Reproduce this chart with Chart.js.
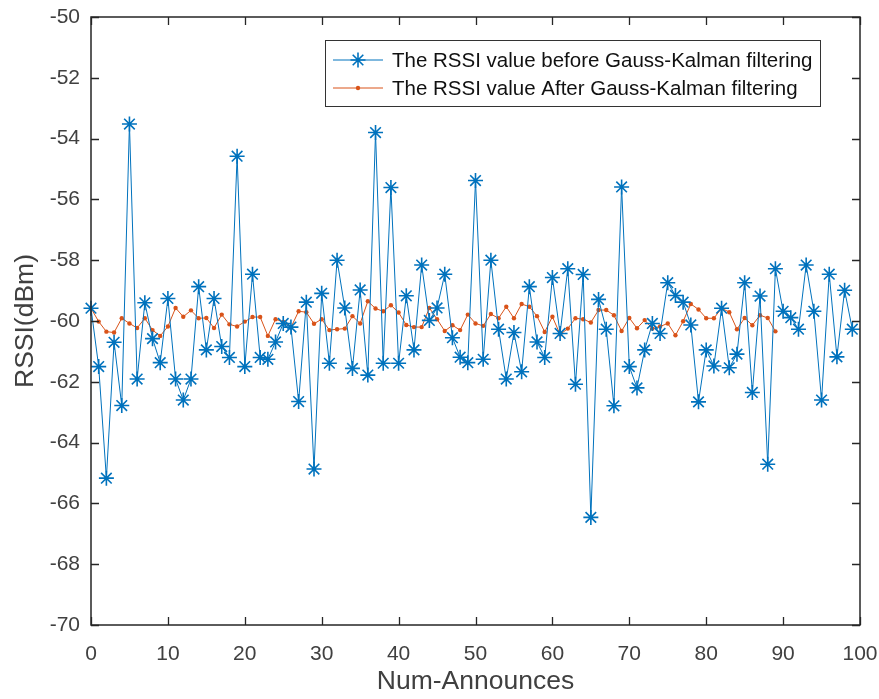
<!DOCTYPE html>
<html>
<head>
<meta charset="utf-8">
<script src="https://cdn.jsdelivr.net/npm/chart.js@4.4.0/dist/chart.umd.min.js"></script>
<style>
html,body{margin:0;padding:0;background:#fff;}
#wrap{width:879px;height:699px;position:relative;}
</style>
</head>
<body>
<div id="wrap"><canvas id="c" width="879" height="699"></canvas></div>
<script>
// ---- data ----
const seriesNames = [
  'The RSSI value before Gauss-Kalman filtering',
  'The RSSI value After Gauss-Kalman filtering'
];
const rssiBefore = [
  -59.58,-61.5,-65.17,-60.7,-62.78,-53.52,-61.91,-59.4,-60.58,-61.37,
  -59.26,-61.91,-62.6,-61.91,-58.87,-60.95,-59.26,-60.84,-61.2,-54.58,
  -61.5,-58.46,-61.2,-61.26,-60.69,-60.08,-60.2,-62.65,-59.38,-64.87,
  -59.09,-61.39,-58.0,-59.57,-61.56,-58.98,-61.78,-53.8,-61.39,-55.61,
  -61.39,-59.17,-60.95,-58.16,-59.98,-59.57,-58.46,-60.55,-61.19,-61.37,
  -55.38,-61.26,-58.0,-60.27,-61.91,-60.38,-61.67,-58.87,-60.69,-61.2,
  -58.57,-60.41,-58.28,-62.08,-58.47,-66.46,-59.29,-60.27,-62.79,-55.59,
  -61.5,-62.2,-60.95,-60.08,-60.41,-58.74,-59.16,-59.38,-60.13,-62.66,
  -60.95,-61.48,-59.58,-61.54,-61.09,-58.74,-62.35,-59.18,-64.71,-58.28,
  -59.68,-59.89,-60.27,-58.16,-59.68,-62.6,-58.46,-61.18,-58.99,-60.27
];
const rssiAfter = [
  -59.58,-60.02,-60.35,-60.38,-59.91,-60.08,-60.23,-59.91,-60.3,-60.49,
  -60.18,-59.57,-59.86,-59.65,-59.91,-59.9,-60.23,-59.79,-60.11,-60.18,
  -60.02,-59.87,-59.87,-60.49,-59.94,-60.03,-60.21,-59.68,-59.71,-60.09,
  -59.94,-60.3,-60.27,-60.25,-59.84,-60.08,-59.35,-59.59,-59.68,-59.48,
  -59.72,-60.13,-60.2,-60.2,-59.57,-59.94,-60.33,-60.14,-60.3,-59.79,
  -60.08,-60.16,-59.77,-59.91,-59.53,-59.91,-59.44,-59.53,-59.84,-60.36,
  -59.86,-60.44,-60.25,-59.91,-59.94,-60.05,-59.64,-59.64,-59.81,-60.33,
  -59.9,-60.24,-59.97,-60.25,-60.18,-60.08,-60.47,-60.01,-59.44,-59.62,
  -59.91,-59.91,-59.58,-59.71,-60.27,-59.9,-60.14,-59.81,-59.9,-60.34
];
const xTickValues = [0,10,20,30,40,50,60,70,80,90,100];
const yTickValues = [-70,-68,-66,-64,-62,-60,-58,-56,-54,-52,-50];
const xTitle = 'Num-Announces';
const yTitle = 'RSSI(dBm)';

// ---- styles ----
const BLUE = '#0072BD';
const ORANGE = '#D95319';
const AXIS = '#262626';
const TICKTXT = '#404040';
const FONT = "'Liberation Sans', Arial, Helvetica, sans-serif";

const toPoints = arr => arr.map((v, i) => ({x: i, y: v}));

const boxAndTicks = {
  id: 'boxAndTicks',
  afterDatasetsDraw(chart) {
    const {ctx, chartArea: a, scales} = chart;
    ctx.save();
    ctx.strokeStyle = AXIS;
    ctx.lineWidth = 1.3;
    ctx.beginPath();
    const L = 8;
    scales.x.ticks.forEach(t => {
      const p = Math.round(scales.x.getPixelForValue(t.value)) + 0.5;
      ctx.moveTo(p, a.bottom); ctx.lineTo(p, a.bottom - L);
      ctx.moveTo(p, a.top); ctx.lineTo(p, a.top + L);
    });
    scales.y.ticks.forEach(t => {
      const p = Math.round(scales.y.getPixelForValue(t.value)) + 0.5;
      ctx.moveTo(a.left, p); ctx.lineTo(a.left + L, p);
      ctx.moveTo(a.right, p); ctx.lineTo(a.right - L, p);
    });
    ctx.stroke();
    ctx.lineWidth = 1.5;
    ctx.strokeRect(a.left, a.top, a.right - a.left, a.bottom - a.top);

    // legend
    const lx = 325, ly = 40, lw = 495, lh = 66;
    ctx.fillStyle = '#fff';
    ctx.fillRect(lx, ly, lw, lh);
    ctx.strokeStyle = '#333';
    ctx.lineWidth = 1;
    ctx.strokeRect(lx + 0.5, ly + 0.5, lw, lh);
    const rows = [ly + 20, ly + 48];
    const dsets = chart.data.datasets;
    rows.forEach((ry, i) => {
      const ds = dsets[i];
      ctx.strokeStyle = ds.borderColor;
      ctx.fillStyle = ds.borderColor;
      ctx.lineWidth = ds.borderWidth;
      ctx.beginPath();
      ctx.moveTo(333, ry); ctx.lineTo(383, ry);
      ctx.stroke();
      ctx.lineWidth = ds.pointBorderWidth || 1;
      Chart.helpers.drawPoint(ctx, {
        pointStyle: ds.pointStyle, radius: ds.pointRadius,
        borderWidth: ds.pointBorderWidth, rotation: 0
      }, 358, ry);
      ctx.fillStyle = '#111';
      ctx.font = '20.5px ' + FONT;
      ctx.textBaseline = 'middle';
      ctx.textAlign = 'left';
      ctx.fillText(seriesNames[i], 392, ry + 1);
    });
    ctx.restore();
  }
};

new Chart(document.getElementById('c'), {
  type: 'line',
  data: {
    datasets: [
      {
        label: seriesNames[0],
        data: toPoints(rssiBefore),
        borderColor: BLUE,
        backgroundColor: BLUE,
        borderWidth: 1,
        pointStyle: 'star',
        pointRadius: 7.5,
        pointBorderWidth: 1.6,
        pointBorderColor: BLUE,
        pointBackgroundColor: BLUE,
        tension: 0,
        clip: false
      },
      {
        label: seriesNames[1],
        data: toPoints(rssiAfter),
        borderColor: ORANGE,
        backgroundColor: ORANGE,
        borderWidth: 1,
        pointStyle: 'circle',
        pointRadius: 2.2,
        pointBorderWidth: 0,
        pointBorderColor: ORANGE,
        pointBackgroundColor: ORANGE,
        tension: 0,
        clip: false
      }
    ]
  },
  options: {
    responsive: false,
    animation: false,
    devicePixelRatio: 1,
    layout: { padding: { top: 17, right: 19, left: 0, bottom: 0 } },
    plugins: { legend: { display: false }, tooltip: { enabled: false } },
    scales: {
      x: {
        type: 'linear',
        min: 0, max: 100,
        afterBuildTicks: s => { s.ticks = xTickValues.map(v => ({value: v})); },
        afterFit: s => { s.height = 74; s.paddingLeft = 0; s.paddingRight = 0; },
        grid: { display: false, drawTicks: false },
        border: { display: false },
        ticks: {
          color: TICKTXT, padding: 17, maxRotation: 0, autoSkip: false,
          font: { family: FONT, size: 21 }
        },
        title: {
          display: true, text: xTitle, color: TICKTXT,
          font: { family: FONT, size: 26.5 }, padding: { top: 0, bottom: 1 }
        }
      },
      y: {
        type: 'linear',
        min: -70, max: -50,
        afterBuildTicks: s => { s.ticks = yTickValues.map(v => ({value: v})); },
        afterFit: s => { s.width = 91; s.paddingTop = 0; s.paddingBottom = 0; },
        grid: { display: false, drawTicks: false },
        border: { display: false },
        ticks: {
          color: TICKTXT, padding: 11, autoSkip: false,
          font: { family: FONT, size: 21 }
        },
        title: {
          display: true, text: yTitle, color: TICKTXT,
          font: { family: FONT, size: 26.5 }, padding: { top: 10, bottom: 0 }
        }
      }
    }
  },
  plugins: [boxAndTicks]
});
</script>
</body>
</html>
